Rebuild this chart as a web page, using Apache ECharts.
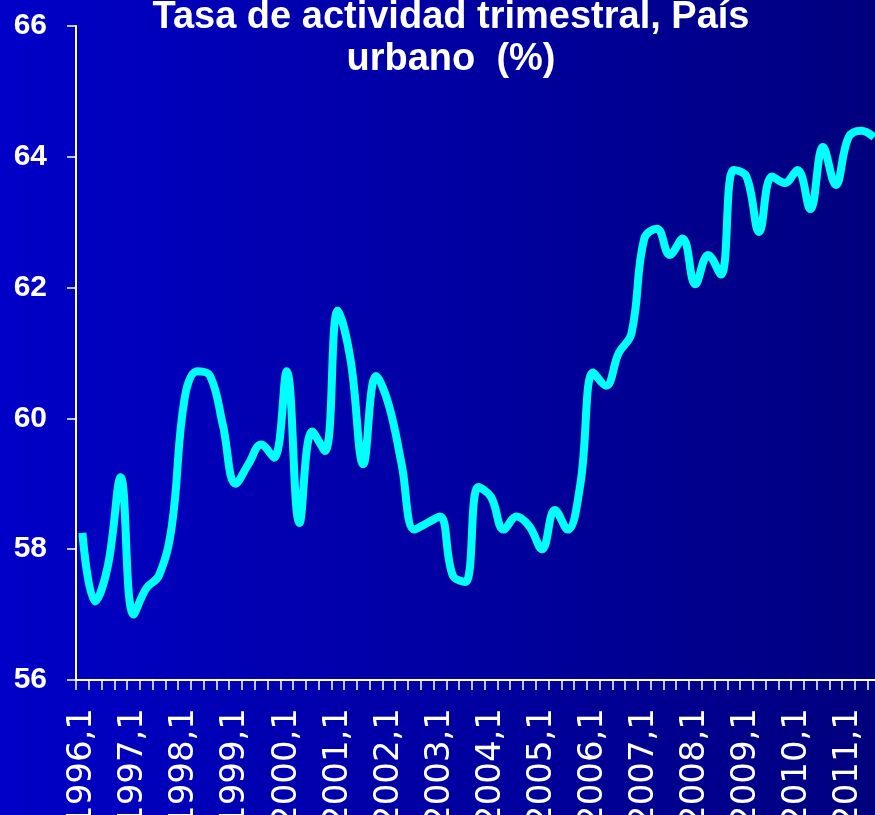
<!DOCTYPE html>
<html>
<head>
<meta charset="utf-8">
<script src="https://cdn.jsdelivr.net/npm/echarts@6/dist/echarts.min.js"></script>
<style>
html,body{margin:0;padding:0;background:#00009c;}
#chart{width:875px;height:815px;}
</style>
</head>
<body>
<div id="chart"></div>
<script>
var titleText = "Tasa de actividad trimestral, País\nurbano  (%)";
var categories = [
 "1996,1","1996,2","1996,3","1996,4",
 "1997,1","1997,2","1997,3","1997,4",
 "1998,1","1998,2","1998,3","1998,4",
 "1999,1","1999,2","1999,3","1999,4",
 "2000,1","2000,2","2000,3","2000,4",
 "2001,1","2001,2","2001,3","2001,4",
 "2002,1","2002,2","2002,3","2002,4",
 "2003,1","2003,2","2003,3","2003,4",
 "2004,1","2004,2","2004,3","2004,4",
 "2005,1","2005,2","2005,3","2005,4",
 "2006,1","2006,2","2006,3","2006,4",
 "2007,1","2007,2","2007,3","2007,4",
 "2008,1","2008,2","2008,3","2008,4",
 "2009,1","2009,2","2009,3","2009,4",
 "2010,1","2010,2","2010,3","2010,4",
 "2011,1","2011,2","2011,3"
];
var tasaActividad = [
 58.25, 57.2, 57.75, 59.1,
 57.0, 57.4, 57.6, 58.35,
 60.3, 60.72, 60.65, 59.9,
 59.0, 59.3, 59.6, 59.4,
 60.72, 58.4, 59.8, 59.5,
 61.65, 60.9, 59.3, 60.65,
 60.2, 59.3, 58.3, 58.4,
 58.5, 57.6, 57.5, 58.95,
 58.8, 58.3, 58.5, 58.35,
 58.0, 58.6, 58.3, 59.0,
 60.7, 60.5, 61.0, 61.3,
 62.75, 62.9, 62.5, 62.75,
 62.05, 62.5, 62.2, 63.8,
 63.7, 62.85, 63.7, 63.6,
 63.8, 63.2, 64.15, 63.57,
 64.3, 64.4, 64.3
];
var yMin = 56, yMax = 66, yStep = 2;

var chart = echarts.init(document.getElementById('chart'), null, {renderer:'canvas'});
chart.setOption({
  animation: false,
  backgroundColor: {
    type: 'linear', x: 0, y: 0, x2: 1, y2: 0,
    colorStops: [{offset: 0, color: '#0000C8'}, {offset: 1, color: '#00007E'}]
  },
  title: {
    text: titleText,
    left: 446, top: -8, textAlign: 'center',
    textStyle: {color: '#ffffff', fontFamily: 'Liberation Sans', fontWeight: 'bold', fontSize: 38, lineHeight: 42}
  },
  grid: {left: 76, top: 26, width: 804.5, height: 654, containLabel: false, outerBoundsMode: 'none'},
  xAxis: {
    type: 'category',
    data: categories,
    boundaryGap: true,
    axisLine: {lineStyle: {color: '#ffffff', width: 2}},
    axisTick: {show: true, interval: 0, length: 10, lineStyle: {color: '#ffffff', width: 1.5}},
    axisLabel: {interval: 3, rotate: 90, margin: 28, color: '#ffffff', fontFamily: 'DejaVu Sans', fontSize: 34},
    splitLine: {show: false}
  },
  yAxis: {
    type: 'value', min: yMin, max: yMax, interval: yStep,
    axisLine: {show: true, lineStyle: {color: '#ffffff', width: 2}},
    axisTick: {show: true, length: 9, lineStyle: {color: '#ffffff', width: 1.5}},
    axisLabel: {margin: 29, color: '#ffffff', fontFamily: 'Liberation Sans', fontWeight: 'bold', fontSize: 30},
    splitLine: {show: false}
  },
  series: [{
    type: 'line',
    data: tasaActividad,
    smooth: 0.4,
    showSymbol: false,
    lineStyle: {color: '#00FFFF', width: 8}
  }]
});
</script>
</body>
</html>
